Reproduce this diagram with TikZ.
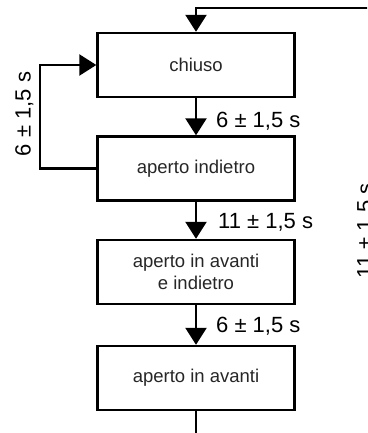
\documentclass[tikz,border=0pt]{standalone}
\usepackage{fontspec}
\setmainfont{Liberation Sans}
\usepackage{tikz}
\usetikzlibrary{
  arrows.meta,
  calc
}
\definecolor{boxtext}{HTML}{262626}
\tikzset{
  fsm/.style={
    x=1pt,
    y=-1pt,
    line width=2.4pt,
    >={Triangle[length=17pt,width=21pt]}},
  stato/.style={
    draw,
    minimum width=197pt,
    minimum height=64pt,
    inner sep=0pt,
    align=center,
    text=boxtext,
    font=\fontsize{18.5}{22}\selectfont},
  tempo/.style={
    inner sep=0pt,
    font=\fontsize{22}{24}\selectfont}
  }

\begin{document}
\begin{tikzpicture}[fsm]
      \useasboundingbox (0,0) rectangle (367,433);
      \clip (0,0) rectangle (367,433);
      \node[stato] (chiuso) at (196,65) {chiuso};
      \node[stato] (indietro) at (196,168.5) {aperto indietro};
      \node[stato] (entrambi) at (196,272) {aperto in avanti\\e indietro};
      \node[stato] (avanti) at (196,378) {aperto in avanti};
      \coordinate (ritorno) at (395,8);
      \coordinate (fine) at (196,445);
      \path[->]
      (chiuso) edge (indietro)
      (indietro) edge (entrambi)
      (entrambi) edge (avanti);
      \draw (avanti) -- (fine);
      \draw[->] (indietro.west) -- (40,168.5) |- (chiuso.west);
      \draw[->] (ritorno) -| (chiuso.north);
      \node[tempo, anchor=base west] (t1) at (215,127) {6 ± 1,5 s};
      \node[tempo, anchor=base west] (t2) at (217,228) {11 ± 1,5 s};
      \node[tempo, anchor=base west] (t3) at (215,332) {6 ± 1,5 s};
      \node[tempo, rotate=90, anchor=north] (t4) at (14,114) {6 ± 1,5 s};
      \node[tempo, rotate=90, anchor=north] (t5) at (356,231) {11 ± 1,5 s};
    \end{tikzpicture}
\end{document}
